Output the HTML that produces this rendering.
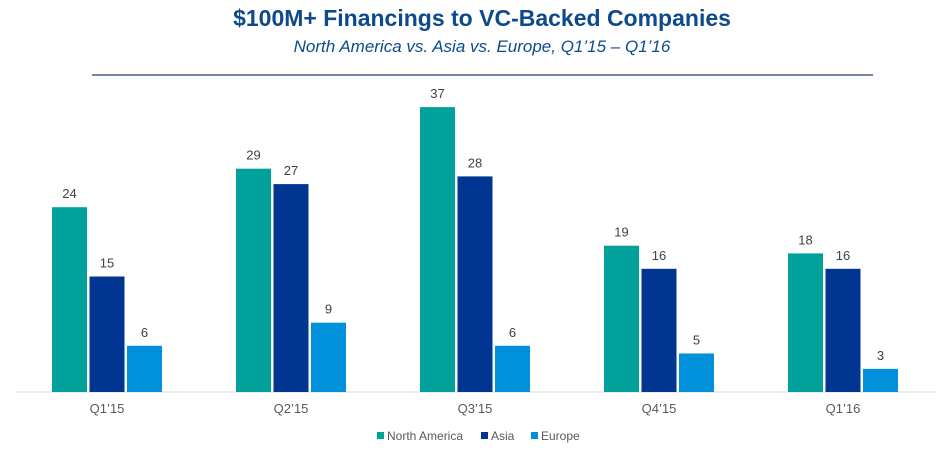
<!DOCTYPE html>
<html><head><meta charset="utf-8"><style>
body{margin:0;width:945px;height:448px;background:#fff;overflow:hidden;font-family:"Liberation Sans",Arial,sans-serif}
</style></head><body>
<svg id="chart" width="945" height="448" xmlns="http://www.w3.org/2000/svg">
<text x="482" y="26" text-anchor="middle" font-size="23" font-weight="bold" fill="#0d4a8c">$100M+ Financings to VC-Backed Companies</text>
<text x="482" y="52" text-anchor="middle" font-size="17" font-style="italic" fill="#0d4a8c">North America vs. Asia vs. Europe, Q1’15 – Q1’16</text>
<line x1="92" y1="75" x2="873" y2="75" stroke="#1f3f6e" stroke-width="1.2"/>
<line x1="15" y1="392" x2="935" y2="392" stroke="#d9d9d9" stroke-width="1"/>
<g id="bars"></g>
<g id="legend"></g>
</svg>
<script>
const categories=["Q1’15","Q2’15","Q3’15","Q4’15","Q1’16"];
const seriesNames=["North America","Asia","Europe"];
const northAmerica=[24,29,37,19,18];
const asia=[15,27,28,16,16];
const europe=[6,9,6,5,3];
const colors=["#00a19a","#003591","#0091da"];
const series=[northAmerica,asia,europe];
const NS="http://www.w3.org/2000/svg";
const x0=15,bandW=184,baseY=392,pxPerUnit=7.7,barW=35,gap=2.5;
const xBand=i=>x0+i*bandW+bandW/2;
const yScale=v=>baseY-v*pxPerUnit;
const g=document.getElementById('bars');
categories.forEach((c,i)=>{
  const cx=xBand(i);
  series.forEach((s,k)=>{
    const x=cx-barW*1.5-gap+k*(barW+gap);
    const r=document.createElementNS(NS,'rect');
    
    
    r.setAttribute('x',x);r.setAttribute('y',yScale(s[i]));
    r.setAttribute('width',barW);r.setAttribute('height',baseY-yScale(s[i]));
    r.setAttribute('fill',colors[k]);g.appendChild(r);
    const t=document.createElementNS(NS,'text');
    
    
    t.setAttribute('x',x+barW/2);t.setAttribute('y',yScale(s[i])-9);
    t.setAttribute('text-anchor','middle');t.setAttribute('font-size','13');t.setAttribute('fill','#404040');
    t.textContent=s[i];g.appendChild(t);
  });
  const l=document.createElementNS(NS,'text');
  
  
  l.setAttribute('x',cx);l.setAttribute('y',413);l.setAttribute('text-anchor','middle');
  l.setAttribute('font-size','13');l.setAttribute('fill','#595959');l.textContent=c;g.appendChild(l);
});
const lg=document.getElementById('legend');
const lx=[377,481,531];
seriesNames.forEach((n,k)=>{
  const r=document.createElementNS(NS,'rect');
  
  
  r.setAttribute('x',lx[k]);r.setAttribute('y',432);r.setAttribute('width',7);r.setAttribute('height',7);
  r.setAttribute('fill',colors[k]);lg.appendChild(r);
  const t=document.createElementNS(NS,'text');
  
  
  t.setAttribute('x',lx[k]+10);t.setAttribute('y',440);t.setAttribute('font-size','12');t.setAttribute('fill','#595959');
  t.textContent=n;lg.appendChild(t);
});
</script>
</body></html>
